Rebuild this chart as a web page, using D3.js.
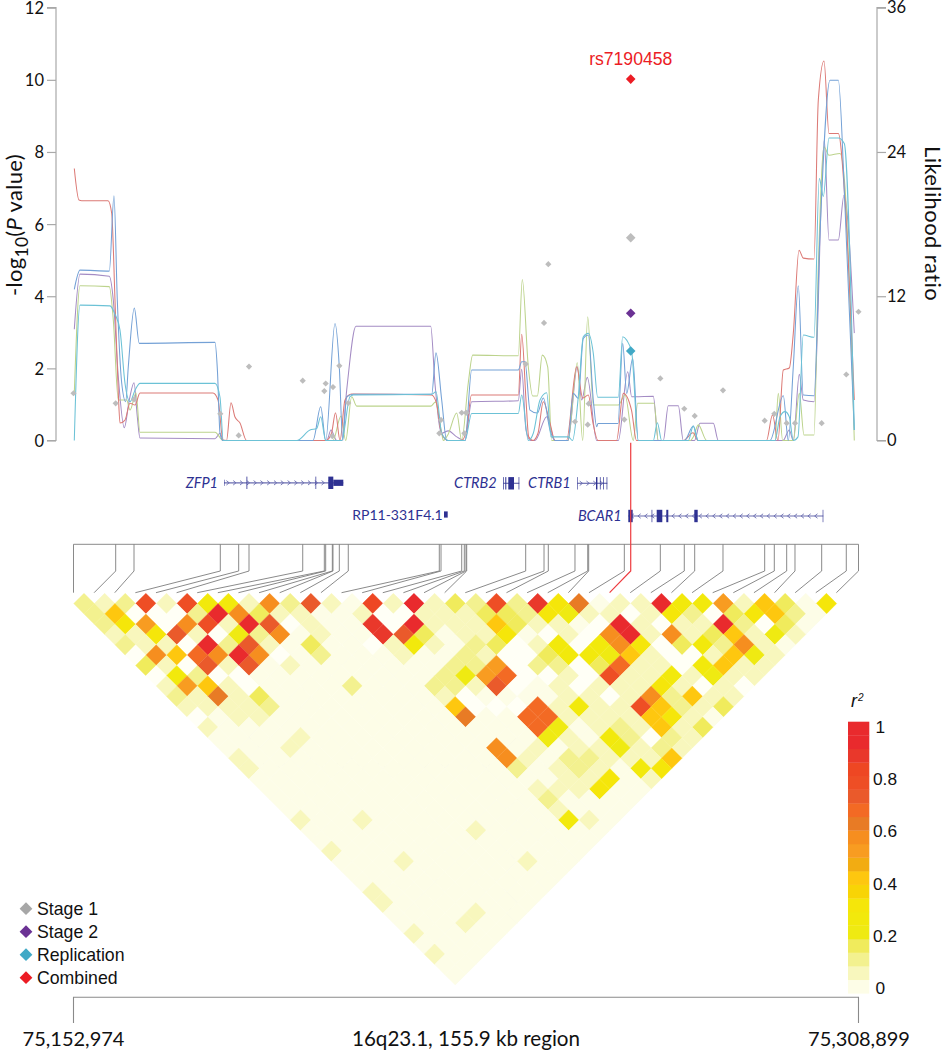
<!DOCTYPE html>
<html><head><meta charset="utf-8">
<style>
html,body{margin:0;padding:0;background:#fff}
svg{display:block}
.arial{font-family:"Liberation Sans",Arial,sans-serif}
.cal{font-family:Lato,"Open Sans",sans-serif}
</style>
<script src="https://cdn.jsdelivr.net/npm/d3@7"></script>
</head><body>
<svg id="c" width="942" height="1050"></svg>
<script>
// ---------- DATA ----------
const regionStart = 75152974, regionEnd = 75308899, regionKb = 155.925, binKb = 0.19863;
const pTicks = [0,2,4,6,8,10,12];
const lrTicks = [0,12,24,36];
const r2Ticks = [0,0.2,0.4,0.6,0.8,1];
// SNP positions in kb from the start of the region
const snpKb = [0,8.38,12.02,29.16,32.81,34.86,45.53,49.82,50.09,51.41,51.54,52.8,54.58,72.66,73,77.11,77.63,77.96,78.1,89.82,93.46,94.31,99.61,102.14,102.33,109.41,110.68,116.56,121.32,123.39,129.01,137.29,139.2,141.66,143.31,148.61,153.5,155.925];
// Stage 1 -log10(P) for each SNP
const stage1P = [1.31,1.03,1.14,.74,.14,2.05,1.66,1.37,1.58,.12,1.48,2.07,1.04,.2,.57,.77,.2,.77,.77,2.12,3.26,4.89,.52,.44,1.02,.58,5.62,1.72,.88,.68,1.39,.55,.74,.48,.48,.48,1.83,3.57];
const leadIndex = 26, leadName = "rs7190458";
const leadStage2P = 3.53, leadReplicationP = 2.48, leadCombinedP = 10.02;
// Likelihood-ratio traces: [position in 198.6 bp bins, LR]
const redLine = [[.8,22.63],[5.5,20],[8.2,19.95],[34.5,19.95],[38.2,18.9],[41.5,11.68],[44.8,3.95],[46.5,1.45],[51.5,1.7],[56.5,3.1],[61.5,2.95],[66.5,3.95],[139.5,3.95],[144.5,3.37],[149.5,.04],[153,0],[157.5,3.14],[161.5,1.95],[166.5,1.45],[173,0],[252.5,0],[258,.6],[262,2.3],[266.5,0],[271.5,3.37],[278,3.87],[358,3.78],[363,3.1],[368,.6],[374.5,0],[388,0],[393,.87],[398,3.78],[444.8,3.78],[448.2,8.83],[452.5,3.37],[455.2,.3],[459.5,0],[464.5,.6],[469.8,3.22],[476.5,1.45],[481.5,0],[493,0],[503.2,6.13],[509.2,3.53],[514.8,3.78],[519.5,1.45],[524.5,0],[543,0],[549.8,3.92],[558,2.53],[563,0],[610,0],[619.5,.65],[624.5,0],[693,0],[699,2.12],[704.5,0],[709.8,5.86],[715.8,6.03],[719.8,8.91],[725.5,15.83],[729.8,15.17],[740.5,15.09],[744.8,28.3],[750.5,31.57],[755.5,25.54],[764.8,25.54],[771.5,19.99],[780.8,3.37]];
const blueLine = [[.8,12.57],[6.5,14.17],[35.8,14.09],[40.5,20.35],[43.8,11.68],[48.2,4.78],[52.2,3.23],[54.8,6.13],[60.8,11.01],[65.8,8.08],[141.5,8.16],[144,5.7],[146.5,.6],[149.5,0],[239.5,0],[247.2,2.8],[252.2,0],[261.5,9.74],[265.8,6.13],[269.2,0],[273.2,3.64],[279.8,3.84],[358.2,3.84],[362.5,7.29],[368.2,3.37],[373.2,0],[391.5,0],[398.2,5.86],[444.8,5.86],[448.2,6.55],[451.5,6.55],[456.5,2.53],[463.8,2.28],[469.8,3.54],[476.5,.87],[481.5,0],[494.5,0],[499.8,3.92],[504.8,3.5],[509.8,8.5],[514.8,8.77],[519.8,3.37],[523.2,1.15],[524.5,1.42],[544.5,1.42],[549.2,8.08],[553.2,3.92],[559.2,6.83],[564.8,0],[611,0],[619.8,1.2],[624.5,0],[696.5,0],[709.8,3.72],[714.8,0],[719.8,6.13],[724.8,12.87],[729.8,3.78],[740.5,3.72],[746.5,17.25],[756.5,29.97],[764.8,29.97],[771.5,19.43],[780.8,.87]];
const purpleLine = [[.8,9.25],[6.5,13.84],[35.8,13.67],[39.8,11.68],[44.8,5.3],[50.8,1.06],[55.8,3.37],[60.5,4.8],[63.8,1.98],[66.5,.2],[141.5,.15],[146.5,.6],[149.8,0],[253.2,0],[257.5,.87],[263.2,0],[268.2,0],[273.2,4.2],[282.5,9.5],[357.2,9.5],[361.5,4.7],[368.2,.6],[374.8,.8],[383.2,.3],[391.5,0],[398.2,3.22],[444.8,3.3],[448.2,5.92],[452.5,.87],[457,0],[461.5,0],[473.2,1.98],[481.5,0],[494.5,0],[503.8,6.13],[508.2,3.37],[513.8,5.25],[523.2,0],[544.8,0],[554.2,5.72],[558.2,3.64],[561.5,3.64],[579.8,3.67],[584.8,0],[589.8,0],[594.8,2.89],[604.8,2.89],[609.8,0],[621,0],[626.5,1.43],[639.8,1.43],[644.8,0],[709.5,0],[715.8,.87],[719.8,0],[725.8,5.5],[729.8,3.37],[740.5,3.22],[750.8,25],[755.5,16.67],[764.8,16.67],[770.5,20.4],[780.8,8.93]];
const greenLine = [[.8,3.95],[6.5,12.87],[35.8,12.8],[39.8,10.03],[44.8,3.37],[53.2,3.37],[56.5,2.53],[62.5,3.95],[66.5,.68],[141.5,.68],[149.8,0],[259.5,0],[267.5,2.04],[272.2,0],[278.2,3.64],[283.2,2.86],[357.2,2.86],[362,3.2],[368.2,.6],[369.8,0],[374.8,.55],[383.2,2.28],[388.2,0],[394.8,4.8],[399.2,7.1],[444.8,7.05],[448.8,13.4],[454.8,6.13],[459.2,3.7],[463.8,3.7],[468.8,7.1],[474.2,6.13],[478.2,0],[494.5,0],[503.8,6.47],[509.2,0],[514.2,10.29],[519.8,2.95],[544.8,2.95],[551.5,3.78],[559.8,0],[564.2,3.1],[580.5,3.1],[584.8,0],[617,0],[619.8,.3],[624.8,1.3],[633.2,0],[701.5,0],[704.8,3.92],[709.2,0],[719.8,0],[725.8,3.92],[730.5,.45],[740.5,.45],[744.8,14.45],[750.5,24.43],[755.5,23.73],[766.5,23.88],[771.5,21.1],[780.8,0]];
const cyanLine = [[.8,0],[6.5,11.26],[36.5,11.2],[41.5,10.5],[46.5,9.18],[51.5,4.75],[56.5,3.22],[61.5,4.18],[66.5,4.75],[141.5,4.75],[146.5,3.6],[149.8,0],[223.2,0],[236.5,.87],[243.2,1],[247.2,1.98],[252.2,0],[268.2,0],[276.5,3.64],[279.8,3.78],[358,3.84],[362.5,4.05],[368.2,.6],[374.8,0],[391.5,0],[398.2,2.25],[444.8,2.25],[448.2,3.78],[454.8,0],[459.8,.6],[466.5,3.37],[473.2,3.97],[477.5,.3],[495,.3],[499,0],[504.8,3.64],[509.8,8.63],[514.8,8.92],[519.8,7.25],[524.2,3.6],[544.8,3.6],[549.2,8.63],[553.2,8.35],[558.2,7.35],[564.8,0],[579.8,0],[583.8,1.48],[588.2,0],[614.8,0],[619.8,1.2],[624.8,0],[701.5,0],[706.5,1.98],[711.5,2.4],[715.8,1.98],[719.8,0],[724.5,.3],[729.8,8.77],[740.5,8.58],[745.8,21.8],[749.8,20.3],[755.5,25.17],[764.8,25.17],[770.8,24.7],[780.8,.87]];
const lineSeries = [[purpleLine,"#a48cc4"],[greenLine,"#bcd38c"],[redLine,"#dc7a76"],[blueLine,"#74a1d6"],[cyanLine,"#6cc2d6"]];
// Genes, in 198.6 bp bins: name, label style, start, end, strand
const geneNames = ["ZFP1","CTRB2","CTRB1","BCAR1","RP11-331F4.1"];
const geneSpans = [[150.5,269.8],[429.8,445.8],[503.8,533.8],[554.8,749.8],[370.5,374.2]];
const geneStrands = [1,0,1,-1,0];
const geneExons = [
  [[150.5,151,.5],[173,173.8,1],[242,242.7,1],[254.8,259.8,1],[259.8,269.8,.5]],
  [[429.8,430.5,1],[431.8,432.8,1],[434.8,440.5,1],[445.1,445.8,1]],
  [[503.8,504.4,1],[522.5,523.9,1],[526.4,527.1,1],[529.7,530.4,1],[533.1,533.8,1]],
  [[554.8,559.2,1],[578.1,578.8,1],[583.2,588.8,1],[592.8,594.8,1],[620.8,624.2,1],[749.2,749.8,1]],
  [[370.5,374.2,.5]]
];
// r2 (in percent) for each LD row: row = SNP distance - 1, column = first SNP. Unlisted cells are background.
const r2Rows = [
 [14,9,14,75,9,75,25,25,9,55,14,70,9,4,80,9,95,9,19,12,75,12,85,30,60,4,8,8,90,25,25,50,6,42,19,4,32],
 [14,42,0,0,0,12,90,55,19,8,9,4,4,8,0,0,9,8,8,19,19,12,30,22,8,8,0,6,30,12,0,19,30,42,12,4],
 [14,30,50,0,55,75,8,92,72,0,6,4,4,88,0,92,9,8,8,42,18,9,8,4,0,92,7,0,9,9,90,12,0,19,4],
 [9,9,32,72,9,0,22,14,55,4,8,4,4,88,70,19,4,8,9,30,4,0,7,0,58,92,8,58,9,19,42,9,22,9],
 [12,9,9,0,92,12,72,9,4,17,4,4,0,8,27,8,4,12,19,0,6,25,0,25,55,30,0,19,25,12,55,8,4],
 [0,55,42,68,55,92,55,0,4,14,4,4,4,9,4,4,12,8,0,0,19,28,28,22,42,9,0,0,9,42,22,7],
 [19,8,0,72,9,70,4,8,4,4,4,4,4,4,4,12,12,50,0,12,12,0,19,65,8,8,0,25,42,6,9],
 [0,25,12,0,0,4,4,4,4,4,4,4,4,4,12,22,52,68,0,0,6,0,78,9,9,28,7,22,6,6],
 [8,50,43,8,0,4,4,4,4,12,4,4,4,12,12,6,72,0,4,8,0,6,9,9,30,9,0,8,0],
 [14,8,62,8,19,4,4,4,4,4,4,4,4,9,0,4,4,4,4,9,9,0,6,55,12,42,7,8],
 [7,7,8,7,12,4,4,4,4,4,4,4,4,42,0,0,0,68,6,27,9,6,75,42,14,6,19],
 [0,4,7,7,4,4,4,4,4,4,4,4,4,60,4,4,68,68,8,9,6,9,42,33,9,4],
 {0:8,16:68,17:22,19:8,20:12,21:9,22:42,23:9,24:19},
 {4:7,16:22,17:7,19:28,20:14,21:0,22:12,23:6},
 {3:7,13:55,15:7,17:6,18:9,19:22,20:9,21:12,22:7},
 {0:7,13:55,14:7,16:13,17:13,18:8,19:6,20:8,21:42},
 {0:7,13:14,15:8,16:13,17:8,19:27,20:33},
 {15:8,16:8,17:33,19:9},
 {13:7,14:6,15:8,16:33},
 {13:13},
 {13:7},
 {0:7,3:7,13:27,14:7},
 {8:7},{},
 {0:7},
 {3:7,9:7},
 {},{},
 {0:7},{0:7},{4:7},{3:7},{0:7},{},{0:7},{},{}
];
const backgroundR2 = 4;
const r2Colors = ["#fffff6","#fdfde7","#f8f7bd","#f3f18f","#f0eb5c","#efea12","#f2e90c","#f5e60a","#f8d406","#fec70f","#f2ac12","#f89c21","#f68e1f","#e87b25","#f36a24","#ea5a2b","#ee4e25","#ee4723","#e9382b","#e92a2d","#e92a2d"];
const r2Breaks = [.01,.05,.1,.15,.2,.25,.3,.35,.4,.45,.5,.55,.6,.65,.7,.75,.8,.85,.9,.95];
const legendNames = ["Stage 1","Stage 2","Replication","Combined"];
const legendColors = ["#a7a7a7","#6b3294","#41a9c6","#ec1c24"];
const axisLabelLeft = ["-log","10","(","P"," value)"];
const axisLabelRight = "Likelihood ratio";
const regionLabel = "16q23.1, 155.9 kb region";

// ---------- SCALES ----------
const svg = d3.select("#c");
const fmt = d3.format(",");
const x = d3.scaleLinear([0,regionKb],[73.5,858.5]);
const yP = d3.scaleLinear([0,12],[440.5,7.7]);
const yLR = d3.scaleLinear([0,36],[440.5,7.7]);
const gridX = d3.scaleLinear([0,37],[73.5,836.4]);
const cellX = d3.scaleLinear([0,36],[84,826.4]);
const cellY = d3.scaleLinear([0,36],[603.6,974.8]);
const half = 10.31;
const r2Color = d3.scaleThreshold(r2Breaks,r2Colors);
const diamond = h => d3.symbol(d3.symbolSquare,2*h*h)();
const navy = "#2e3192";

// ---------- AXES ----------
function styleAxis(g){
  g.selectAll(".domain").attr("stroke","#a9a9a9").attr("stroke-width",1.2);
  g.selectAll(".tick line").attr("stroke","#a9a9a9").attr("stroke-width",1.2);
  g.selectAll("text").attr("class","cal").style("font-size","16.5px").attr("fill","#111");
}
const gl = svg.append("g").attr("transform","translate(56,0)")
  .call(d3.axisLeft(yP).tickValues(pTicks).tickSize(9).tickSizeOuter(9).tickPadding(3));
styleAxis(gl);
const gr = svg.append("g").attr("transform","translate(877,0)")
  .call(d3.axisRight(yLR).tickValues(lrTicks).tickSize(9).tickSizeOuter(0).tickPadding(1));
styleAxis(gr);
gl.selectAll(".domain").attr("d","M-9,7.7H0V440.5H-9");
gr.selectAll(".domain").attr("d","M9,7.7H0V440.5H9");
gl.selectAll(".tick text").attr("dy","0.36em");

const ll = svg.append("text").attr("class","cal").attr("transform","translate(22,296) rotate(-90)")
  .attr("font-size",22).attr("letter-spacing",.3).attr("fill","#111");
ll.append("tspan").text(axisLabelLeft[0]);
ll.append("tspan").text(axisLabelLeft[1]).attr("dy",6).attr("font-size",17.5);
ll.append("tspan").text(axisLabelLeft[2]).attr("dy",-6);
ll.append("tspan").text(axisLabelLeft[3]).attr("font-style","italic");
ll.append("tspan").text(axisLabelLeft[4]);
svg.append("text").attr("class","cal").attr("transform","translate(924.5,146) rotate(90)")
  .attr("font-size",22).attr("letter-spacing",.4).attr("fill","#111").text(axisLabelRight);

// ---------- TRACES ----------
const line = d3.line().x(d=>x(d[0]*binKb)).y(d=>yLR(d[1])).curve(d3.curveMonotoneX);
svg.append("g").selectAll("path").data(lineSeries).join("path")
  .attr("d",d=>line(d[0])).attr("fill","none").attr("stroke",d=>d[1]).attr("stroke-width",1.05);

// ---------- POINTS ----------
svg.append("g").selectAll("path").data(stage1P).join("path")
  .attr("d",(d,i)=>diamond(i===leadIndex?4.8:3.1))
  .attr("transform",(d,i)=>`translate(${x(snpKb[i])},${yP(d)}) rotate(45)`)
  .attr("fill","#bdbdbd");
const leadPts = [[leadStage2P,legendColors[1]],[leadReplicationP,legendColors[2]],[leadCombinedP,legendColors[3]]];
svg.append("g").selectAll("path").data(leadPts).join("path")
  .attr("d",diamond(4.8))
  .attr("transform",d=>`translate(${x(snpKb[leadIndex])},${yP(d[0])}) rotate(45)`)
  .attr("fill",d=>d[1]);
svg.append("text").attr("class","arial").attr("x",x(snpKb[leadIndex])).attr("y",65)
  .attr("text-anchor","middle").attr("font-size",17.6).attr("fill","#ec1c24").text(leadName);

// ---------- GENES ----------
const gx = b=>x(b*binKb);
const geneY = [482.8,483.3,483.3,516,514.5];
const labelY = [487.5,488,488,521,520];
const labelEnd = [218,496.7,570.7,621.7,442.7];
geneNames.forEach((n,i)=>{
  const g = svg.append("g");
  const [a,b] = geneSpans[i], yc = geneY[i];
  if(b-a>10){
    g.append("line").attr("x1",gx(a)).attr("x2",gx(b)).attr("y1",yc).attr("y2",yc).attr("stroke","#6a6db0").attr("stroke-width",1.2);
    if(geneStrands[i]!==0){
      const s = geneStrands[i];
      g.selectAll("path.c").data(d3.range(a+4,b-2,6.8)).join("path").attr("class","c")
        .attr("d",d=>`M${gx(d)-s*1.6},${yc-2.2}L${gx(d)+s*1.2},${yc}L${gx(d)-s*1.6},${yc+2.2}`)
        .attr("fill","none").attr("stroke","#6a6db0").attr("stroke-width",.9);
    }
  }
  g.selectAll("rect").data(geneExons[i]).join("rect")
    .attr("x",d=>gx(d[0])).attr("width",d=>gx(d[1])-gx(d[0])).attr("y",d=>yc-6.2*d[2]).attr("height",d=>12.4*d[2]).attr("fill",navy);
  svg.append("text").attr("class","cal").attr("x",labelEnd[i]).attr("y",labelY[i]).attr("text-anchor","end")
    .attr("font-size",i===4?14:14.5).attr("font-style",i===4?"normal":"italic").attr("fill",navy).text(n);
});

// ---------- LD CONNECTORS ----------
const barY = 544.3, kneeY = 571, footY = 592.7;
svg.append("line").attr("x1",x(0)).attr("x2",x(regionKb)).attr("y1",barY).attr("y2",barY).attr("stroke","#8a8a8a").attr("stroke-width",1);
const link = d3.line();
svg.append("g").selectAll("path").data(snpKb).join("path")
  .attr("d",(d,i)=>link(i===leadIndex?[[x(d),442.7],[x(d),kneeY],[gridX(i),footY]]:[[x(d),barY],[x(d),kneeY],[gridX(i),footY]]))
  .attr("fill","none").attr("stroke",(d,i)=>i===leadIndex?"#ee3b3f":"#7d7d7d").attr("stroke-width",(d,i)=>i===leadIndex?1.2:.9);

// ---------- LD TRIANGLE ----------
const cells = [];
r2Rows.forEach((row,d)=>{ for(let i=0;i<37-d;i++){ const v = row[i]; cells.push({d,i,v:(v===undefined?backgroundR2:v)/100}); } });
const cellPath = `M0,${-half}L${half},0L0,${half}L${-half},0Z`;
svg.append("g").selectAll("path").data(cells).join("path")
  .attr("d",cellPath)
  .attr("transform",c=>`translate(${cellX(c.i+c.d/2)},${cellY(c.d)})`)
  .attr("fill",c=>r2Color(c.v)).attr("stroke",c=>r2Color(c.v)).attr("stroke-width",.35);

// ---------- R2 COLOUR BAR ----------
const barScale = d3.scaleLinear([0,1],[993.3,721.7]);
const barBins = d3.range(20).map(k=>k/20);
svg.append("g").selectAll("rect").data(barBins).join("rect")
  .attr("x",848).attr("width",21.3).attr("y",d=>barScale(d+.05)).attr("height",barScale(0)-barScale(.05)+.3)
  .attr("fill",d=>r2Color(d+.025));
const labelScale = d3.scaleLinear([0,1],[994,733]);
svg.append("g").selectAll("text").data(r2Ticks).join("text").attr("class","arial")
  .attr("x",d=>(d===0||d===1)?875.5:873).attr("y",labelScale).attr("font-size",17.3).attr("fill","#111").text(d=>d);
const rt = svg.append("text").attr("class","arial").attr("x",851).attr("y",707).attr("font-size",18).attr("font-style","italic").attr("fill","#111");
rt.append("tspan").text("r");
rt.append("tspan").text("2").attr("dy",-6).attr("dx",1).attr("font-size",10);

// ---------- LEGEND ----------
const legY = d3.scalePoint(legendNames,[908.7,977.7]);
svg.append("g").selectAll("path").data(legendNames).join("path")
  .attr("d",diamond(6.4)).attr("transform",n=>`translate(26,${legY(n)}) rotate(45)`)
  .attr("fill",(n,i)=>legendColors[i]);
svg.append("g").selectAll("text").data(legendNames).join("text").attr("class","arial")
  .attr("x",37).attr("y",n=>legY(n)+6).attr("font-size",17.7).attr("fill","#111").text(n=>n);

// ---------- REGION BRACKET ----------
svg.append("path").attr("d",`M${x(0)},1023V997.3H${x(regionKb)}V1023`).attr("fill","none").attr("stroke","#8a8a8a").attr("stroke-width",1.1);
const btm = [[regionStart,x(0)],[regionEnd,x(regionKb)+.5]];
svg.append("g").selectAll("text").data(btm).join("text").attr("class","cal")
  .attr("x",d=>d[1]).attr("y",1046).attr("text-anchor","middle").attr("font-size",20).attr("fill","#111").text(d=>fmt(d[0]));
svg.append("text").attr("class","cal").attr("x",466).attr("y",1046).attr("text-anchor","middle").attr("font-size",20.6).attr("fill","#111").text(regionLabel);
</script>
</body></html>
